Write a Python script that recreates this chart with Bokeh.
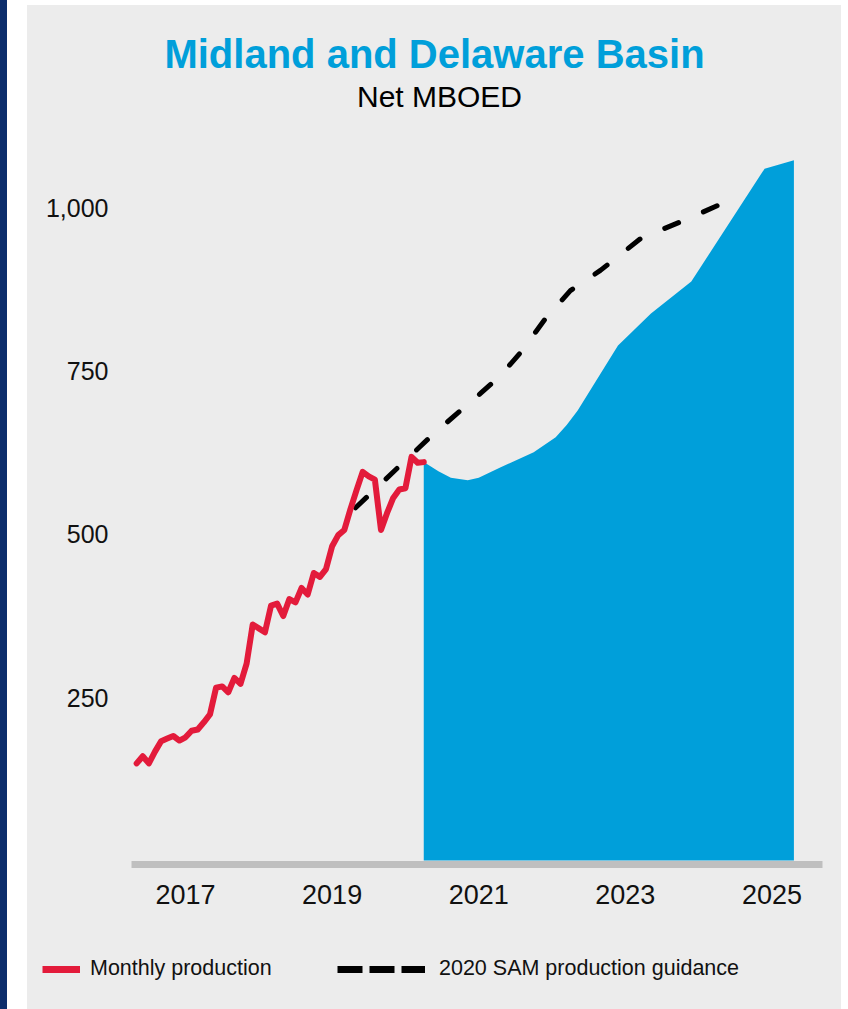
import pandas as pd
from bokeh.plotting import figure
from bokeh.models import (FixedTicker, NumeralTickFormatter, Label, Legend, LegendItem,
                          Range1d, Div)
from bokeh.layouts import row, column
from bokeh.embed import file_html
from bokeh.resources import INLINE

# ---------------- data ----------------
prod_months = pd.date_range("2016-05-01", periods=48, freq="MS")
prod_values = [149, 160, 149, 167, 183, 187, 191, 184, 189, 199,
               201, 212, 224, 265, 267, 258, 280, 271, 302, 362,
               356, 350, 391, 394, 375, 401, 396, 418, 408, 441,
               435, 447, 482, 499, 507, 539, 568, 596, 589, 584,
               507, 533, 556, 569, 571, 619, 610, 611]

guidance_years = [2019.32, 2020.37, 2021.02, 2021.30, 2021.57, 2021.91,
                  2022.25, 2022.66, 2023.21, 2023.89, 2024.33]
guidance_values = [541, 653, 716, 744, 779, 831, 874, 905, 954, 986, 1008]

outlook_years = [2020.25, 2020.45, 2020.62, 2020.85, 2021.0, 2021.3, 2021.75,
                 2022.05, 2022.2, 2022.35, 2022.9, 2023.35, 2023.9, 2024.9, 2025.3]
outlook_values = [611, 597, 587, 583, 587, 603, 626, 649, 668, 690, 790, 839,
                  888, 1061, 1074]

x_ticks = [2017, 2019, 2021, 2023, 2025]
y_ticks = [250, 500, 750, 1000]

title_text = "Midland and Delaware Basin"
subtitle_text = "Net MBOED"
legend_labels = ["Monthly production", "2020 SAM production guidance"]

# ---------------- style ----------------
BG = "#ECECEC"
RED = "#E31B3B"
BLUE = "#009FDA"
NAVY = "#0C2D6B"
FONT = "Liberation Sans"
TXT = "#111111"

prod_x = [d.year + (d.month - 1) / 12 for d in prod_months]

# ---------------- main chart ----------------
p = figure(width=814, height=920, output_backend="svg", toolbar_location=None,
           x_range=Range1d(2016.263, 2025.690), y_range=Range1d(-6.1, 1303.6),
           min_border_left=104, min_border_right=19, min_border_top=5,
           min_border_bottom=61, margin=(5, 0, 0, 0),
           styles={"background-color": BG})
p.frame_align = False
p.background_fill_color = None
p.border_fill_color = None
p.outline_line_color = None
p.grid.visible = False

p.varea(x=outlook_years, y1=0, y2=outlook_values, fill_color=BLUE, fill_alpha=1.0)
p.line(guidance_years, guidance_values, line_color="black", line_width=5,
       line_dash="15 27", line_cap="round")
p.line(prod_x, prod_values, line_color=RED, line_width=6, line_join="round",
       line_cap="round")

xa = p.xaxis[0]
xa.ticker = FixedTicker(ticks=x_ticks)
xa.axis_line_color = "#BFBFBF"
xa.axis_line_width = 7
xa.major_tick_line_color = None
xa.minor_tick_line_color = None
xa.major_tick_out = 0
xa.major_tick_in = 0
xa.minor_tick_out = 0
xa.major_label_standoff = 20
xa.major_label_text_font = FONT
xa.major_label_text_font_size = "27px"
xa.major_label_text_color = TXT

ya = p.yaxis[0]
ya.ticker = FixedTicker(ticks=y_ticks)
ya.formatter = NumeralTickFormatter(format="0,0")
ya.axis_line_color = None
ya.major_tick_line_color = None
ya.minor_tick_line_color = None
ya.major_tick_out = 0
ya.major_tick_in = 0
ya.minor_tick_out = 0
ya.major_label_standoff = 23
ya.major_label_text_font = FONT
ya.major_label_text_font_size = "25px"
ya.major_label_text_color = TXT

p.add_layout(Label(x=303, y=811, x_units="screen", y_units="screen", text=title_text,
                   text_align="center", text_baseline="middle",
                   text_font=FONT, text_font_size="40px", text_font_style="bold",
                   text_color=BLUE))
p.add_layout(Label(x=308, y=768, x_units="screen", y_units="screen", text=subtitle_text,
                   text_align="center", text_baseline="middle",
                   text_font=FONT, text_font_size="30px", text_color="black"))

# ---------------- legend strip ----------------
lg = figure(width=814, height=84, output_backend="svg", toolbar_location=None,
            x_range=Range1d(0, 1), y_range=Range1d(0, 1),
            x_axis_type=None, y_axis_type=None,
            min_border_left=0, min_border_right=0, min_border_top=0, min_border_bottom=0,
            styles={"background-color": BG})
lg.frame_align = False
lg.background_fill_color = None
lg.border_fill_color = None
lg.outline_line_color = None
lg.grid.visible = False

# swatch renderers: their points lie outside the visible range, only the legend shows them
red_sw = lg.line(x=[-5, -4], y=[-5, -5], line_color=RED, line_width=7)
blk_sw = lg.line(x=[-5, -4], y=[-5, -5], line_color="black", line_width=7,
                 line_dash="25 7")

common = dict(padding=0, margin=0, border_line_color=None, background_fill_alpha=0,
              label_text_font=FONT, label_text_font_size="21.5px",
              label_text_color=TXT, glyph_height=24, label_height=24)
leg1 = Legend(items=[LegendItem(label=legend_labels[0], renderers=[red_sw])],
              location=(15, 28), glyph_width=38, label_standoff=10, **common)
leg2 = Legend(items=[LegendItem(label=legend_labels[1], renderers=[blk_sw])],
              location=(310, 28), glyph_width=88, label_standoff=14, **common)
lg.add_layout(leg1)
lg.add_layout(leg2)

strip = Div(width=27, height=1009, margin=0, styles={
    "background": f"linear-gradient(to right, {NAVY} 0px, {NAVY} 7px, #FFFFFF 7px)"})

layout = row(strip, column(p, lg, spacing=0), spacing=0)
open("out.html", "w").write(file_html(layout, INLINE))
